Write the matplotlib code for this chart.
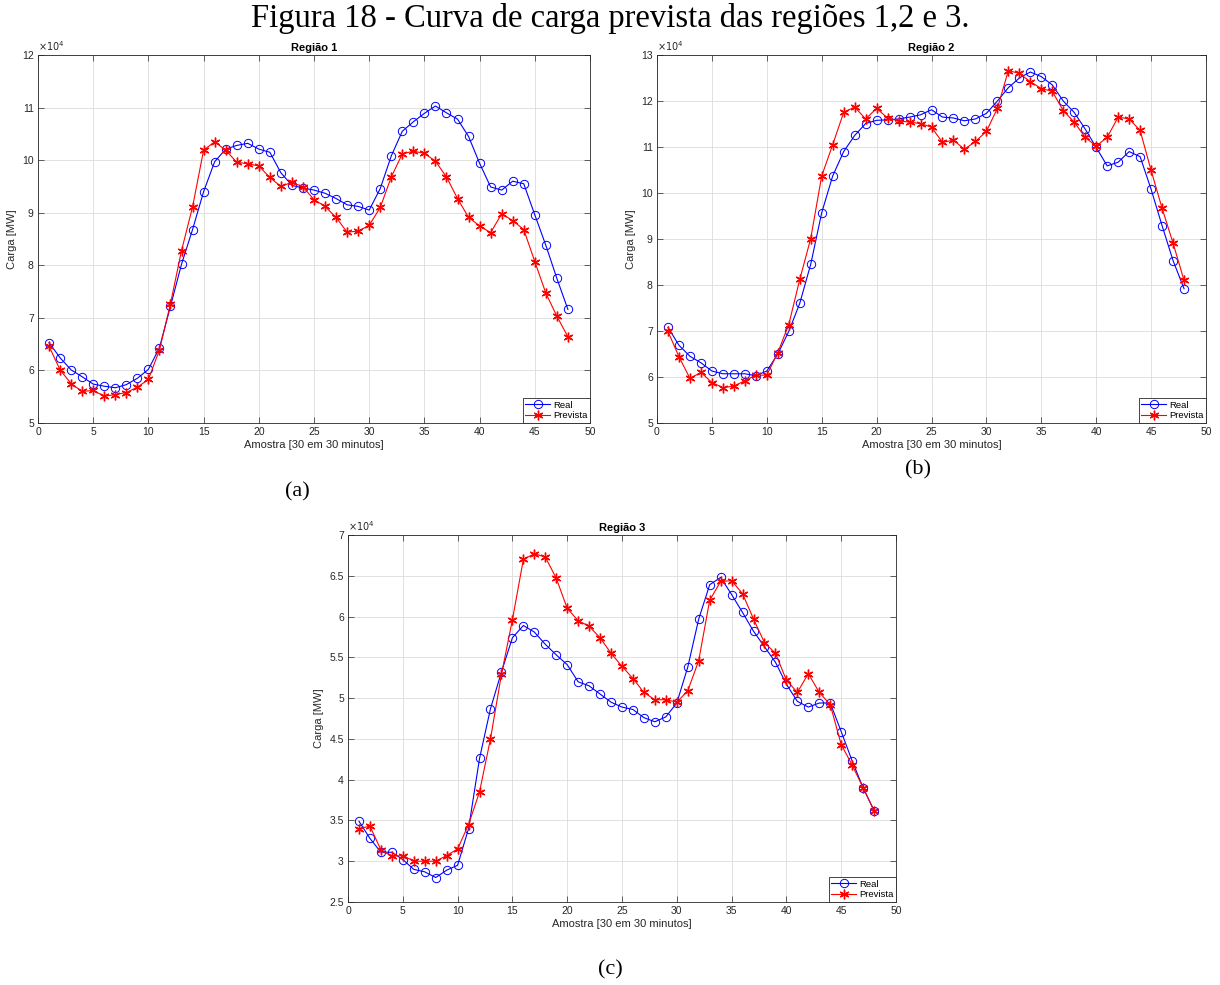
import numpy as np
import matplotlib
matplotlib.use("Agg")
import matplotlib.pyplot as plt
from matplotlib.ticker import FuncFormatter, MultipleLocator

# amostras de 30 em 30 minutos
amostra = np.arange(1, 49)

# valores em unidades de 10^4 MW
real_r1 = [6.53, 6.24, 6.01, 5.88, 5.74, 5.70, 5.67, 5.73, 5.85, 6.02,
           6.43, 7.22, 8.02, 8.68, 9.40, 9.97, 10.21, 10.28, 10.32, 10.21,
           10.15, 9.76, 9.52, 9.47, 9.43, 9.37, 9.27, 9.15, 9.12, 9.05,
           9.46, 10.08, 10.55, 10.73, 10.89, 11.03, 10.90, 10.78, 10.45, 9.94,
           9.49, 9.43, 9.60, 9.55, 8.96, 8.38, 7.75, 7.16]
prev_r1 = [6.46, 6.01, 5.75, 5.60, 5.62, 5.51, 5.54, 5.58, 5.68, 5.83,
           6.39, 7.27, 8.28, 9.11, 10.19, 10.35, 10.19, 9.96, 9.93, 9.89,
           9.67, 9.50, 9.58, 9.49, 9.25, 9.12, 8.91, 8.63, 8.65, 8.76,
           9.10, 9.68, 10.12, 10.17, 10.13, 9.98, 9.68, 9.27, 8.91, 8.75,
           8.62, 8.98, 8.85, 8.68, 8.07, 7.47, 7.03, 6.64]

real_r2 = [7.08, 6.69, 6.45, 6.31, 6.13, 6.07, 6.07, 6.07, 6.03, 6.13,
           6.50, 6.99, 7.60, 8.45, 9.57, 10.37, 10.90, 11.25, 11.51, 11.58,
           11.59, 11.61, 11.65, 11.70, 11.81, 11.65, 11.63, 11.57, 11.61, 11.73,
           12.00, 12.29, 12.50, 12.63, 12.53, 12.35, 12.00, 11.75, 11.39, 10.99,
           10.59, 10.67, 10.90, 10.79, 10.08, 9.29, 8.53, 7.92]
prev_r2 = [6.99, 6.44, 5.97, 6.10, 5.88, 5.77, 5.80, 5.92, 6.04, 6.04,
           6.53, 7.14, 8.12, 9.01, 10.37, 11.05, 11.75, 11.87, 11.61, 11.84,
           11.63, 11.57, 11.54, 11.51, 11.43, 11.10, 11.15, 10.95, 11.12, 11.34,
           11.84, 12.66, 12.60, 12.42, 12.27, 12.21, 11.79, 11.54, 11.21, 11.02,
           11.21, 11.65, 11.61, 11.36, 10.49, 9.67, 8.91, 8.10]

real_r3 = [3.49, 3.28, 3.11, 3.11, 3.02, 2.90, 2.87, 2.80, 2.89, 2.95,
           3.40, 4.26, 4.87, 5.32, 5.74, 5.89, 5.81, 5.66, 5.53, 5.41,
           5.20, 5.15, 5.05, 4.95, 4.89, 4.86, 4.76, 4.71, 4.77, 4.94,
           5.38, 5.97, 6.39, 6.48, 6.27, 6.05, 5.82, 5.63, 5.44, 5.17,
           4.96, 4.89, 4.94, 4.94, 4.59, 4.23, 3.90, 3.62]
prev_r3 = [3.40, 3.43, 3.14, 3.06, 3.07, 3.00, 3.00, 3.00, 3.07, 3.15,
           3.45, 3.85, 4.50, 5.29, 5.96, 6.70, 6.77, 6.73, 6.47, 6.10,
           5.95, 5.88, 5.74, 5.55, 5.39, 5.24, 5.07, 4.98, 4.98, 4.95,
           5.09, 5.46, 6.20, 6.43, 6.44, 6.28, 5.97, 5.68, 5.55, 5.22,
           5.07, 5.30, 5.07, 4.92, 4.43, 4.18, 3.90, 3.62]

titulos = ["Região 1", "Região 2", "Região 3"]
letras = ["(a)", "(b)", "(c)"]
ylims = [(5, 12), (5, 13), (2.5, 7)]
ysteps = [1, 1, 0.5]

plt.rcParams["font.family"] = ["Liberation Sans", "DejaVu Sans"]
W, H = 1220, 985
fig = plt.figure(figsize=(W / 100, H / 100), dpi=100)

# caixas dos eixos em pixels: esquerda, topo, direita, base
caixas = [(38, 55, 590, 423), (657, 55, 1206, 423), (348, 535, 896, 902)]
letra_pos = [(297, 492), (918, 470), (610, 970)]

dados = [(real_r1, prev_r1), (real_r2, prev_r2), (real_r3, prev_r3)]
cinza = "#262626"
asterisco = (6, 2, 0)  # marcador tipo '*' do MATLAB

for i, (real, prev) in enumerate(dados):
    l, t, r, b = caixas[i]
    ax = fig.add_axes([l / W, 1 - b / H, (r - l) / W, (b - t) / H])
    ax.plot(amostra, real, "b-o", lw=0.8, ms=6, mfc="none", mew=0.7, label="Real")
    ax.plot(amostra, prev, color="r", ls="-", marker=asterisco, lw=0.8,
            ms=7, mew=1.0, label="Prevista")
    ax.set_xlim(0, 50)
    ax.set_ylim(*ylims[i])
    ax.xaxis.set_major_locator(MultipleLocator(5))
    ax.yaxis.set_major_locator(MultipleLocator(ysteps[i]))
    ax.yaxis.set_major_formatter(FuncFormatter(lambda v, p: "%g" % v))
    ax.grid(True, color="#dcdcdc", lw=0.6)
    ax.set_axisbelow(True)
    ax.tick_params(direction="in", top=True, right=True, labelsize=7.5,
                   colors=cinza, length=4, width=0.5, pad=3)
    for s in ax.spines.values():
        s.set_linewidth(0.6)
        s.set_color(cinza)
    ax.set_title(titulos[i], fontsize=8, fontweight="bold", pad=3)
    ax.set_xlabel("Amostra [30 em 30 minutos]", fontsize=8, color=cinza, labelpad=2)
    ax.set_ylabel("Carga [MW]", fontsize=8, color=cinza, labelpad=4)
    ax.text(0.0, 1.005, r"$\times10^4$", transform=ax.transAxes, fontsize=7,
            color=cinza, ha="left", va="bottom")
    leg = ax.legend(loc="lower right", fontsize=6.8, fancybox=False,
                    framealpha=1, edgecolor=cinza, borderpad=0.3,
                    handlelength=2.6, handletextpad=0.3, labelspacing=0.15,
                    borderaxespad=0.0)
    leg.get_frame().set_linewidth(0.6)
    x, y = letra_pos[i]
    fig.text(x / W, 1 - y / H, letras[i], fontsize=16,
             family="Liberation Serif", ha="center", va="center")

fig.text(0.5, 1 - 18 / H, "Figura 18 - Curva de carga prevista das regiões 1,2 e 3.",
         fontsize=23.5, family="Liberation Serif", ha="center", va="center")

fig.savefig("out.png", dpi=100)
